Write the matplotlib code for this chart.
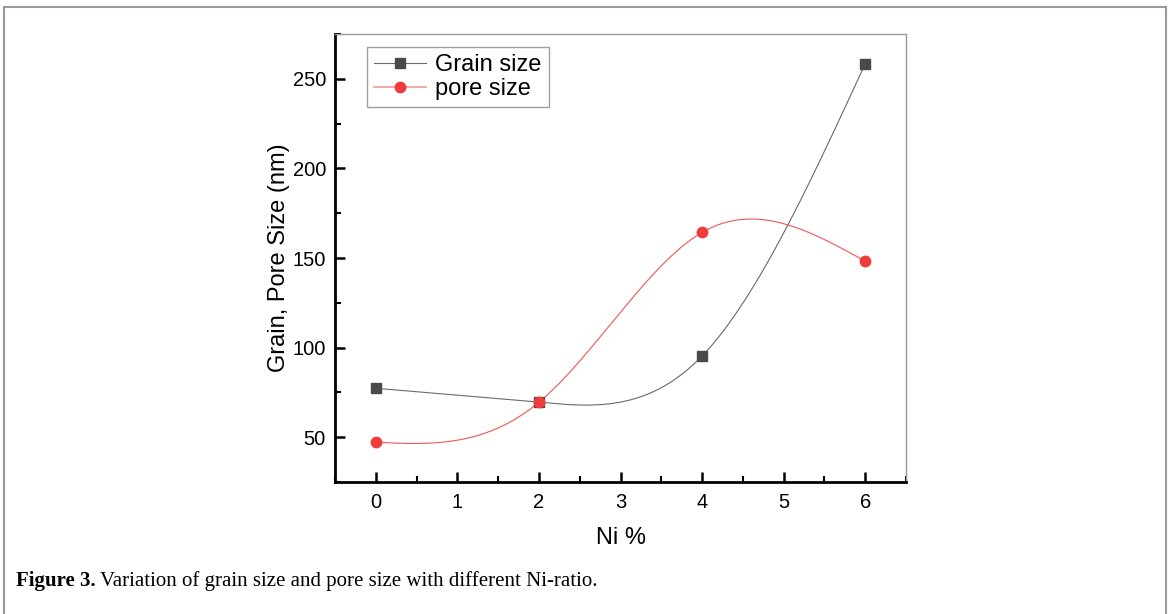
import numpy as np
import matplotlib
matplotlib.use('Agg')
import matplotlib.pyplot as plt
from matplotlib.lines import Line2D
from matplotlib.ticker import MultipleLocator

# data
ni = [0, 2, 4, 6]
grain = [77.3, 69.5, 95.3, 258.4]
pore = [47.2, 69.5, 164.3, 148.2]


def natural_spline(x, y, xs):
    # natural cubic spline, like Origin's "Spline" connect mode
    x = np.asarray(x, float)
    y = np.asarray(y, float)
    n = len(x)
    h = np.diff(x)
    A = np.zeros((n, n))
    b = np.zeros(n)
    A[0, 0] = 1
    A[-1, -1] = 1
    for i in range(1, n - 1):
        A[i, i - 1] = h[i - 1]
        A[i, i] = 2 * (h[i - 1] + h[i])
        A[i, i + 1] = h[i]
        b[i] = 3 * ((y[i + 1] - y[i]) / h[i] - (y[i] - y[i - 1]) / h[i - 1])
    c = np.linalg.solve(A, b)
    out = np.empty_like(xs)
    for k, xv in enumerate(xs):
        i = min(np.searchsorted(x, xv, side='right') - 1, n - 2)
        t = xv - x[i]
        bi = (y[i + 1] - y[i]) / h[i] - h[i] * (2 * c[i] + c[i + 1]) / 3
        di = (c[i + 1] - c[i]) / (3 * h[i])
        out[k] = y[i] + bi * t + c[i] * t ** 2 + di * t ** 3
    return out


plt.rcParams['font.family'] = ['Liberation Sans', 'DejaVu Sans']

fig = plt.figure(figsize=(11.71, 6.14), dpi=100)
ax = fig.add_axes([335 / 1171, 1 - 482 / 614, 571 / 1171, 448 / 614])

xs = np.linspace(0, 6, 400)
grainCol = '#4a4a4a'
poreCol = '#f03c3c'
ax.plot(xs, natural_spline(ni, grain, xs), color='#6a6a6a', lw=0.8, zorder=2)
ax.plot(xs, natural_spline(ni, pore, xs), color='#f25555', lw=0.8, zorder=2)
ax.plot(ni, grain, 's', color=grainCol, ms=7, zorder=3)
ax.plot(ni, pore, 'o', color=poreCol, ms=7.5, zorder=3)

ax.set_xlim(-0.5, 6.5)
ax.set_ylim(25, 275)
ax.xaxis.set_major_locator(MultipleLocator(1))
ax.xaxis.set_minor_locator(MultipleLocator(0.5))
ax.yaxis.set_major_locator(MultipleLocator(50))
ax.yaxis.set_minor_locator(MultipleLocator(25))
ax.set_yticks([50, 100, 150, 200, 250])
ax.tick_params(which='major', direction='in', length=7, width=1.8, labelsize=14.5, pad=8)
ax.tick_params(axis='y', which='major', pad=6.5)
ax.tick_params(which='minor', direction='in', length=4, width=1.5)
ax.tick_params(top=False, right=False)

for s in ['left', 'bottom']:
    ax.spines[s].set_linewidth(2)
    ax.spines[s].set_color('black')
for s in ['top', 'right']:
    ax.spines[s].set_linewidth(1)
    ax.spines[s].set_color('#999999')

ax.set_xlabel('Ni %', fontsize=17, labelpad=11)
ax.set_ylabel('Grain, Pore Size (nm)', fontsize=17, labelpad=2)

handles = [
    Line2D([], [], color='#6a6a6a', lw=0.8, marker='s', ms=7, mfc=grainCol, mec=grainCol),
    Line2D([], [], color='#f7aaaa', lw=1.5, marker='o', ms=7.5, mfc=poreCol, mec=poreCol),
]
leg = ax.legend(handles, ['Grain size', 'pore size'], loc='upper left',
                bbox_to_anchor=(32 / 571, 1 - 13 / 448), borderaxespad=0, fontsize=17,
                frameon=True, fancybox=False, edgecolor='#888888',
                handlelength=2.2, handletextpad=0.4, borderpad=0.3,
                labelspacing=0.08)
leg.get_frame().set_linewidth(1)

# outer gray frame of the page figure
for xy in [([4 / 1171, 1166 / 1171], [1 - 7 / 614, 1 - 7 / 614]),
           ([4 / 1171, 4 / 1171], [0, 1 - 7 / 614]),
           ([1166 / 1171, 1166 / 1171], [0, 1 - 7 / 614])]:
    fig.add_artist(Line2D(xy[0], xy[1], color='#999999', lw=1.5))

# caption
t1 = fig.text(16 / 1171, 1 - 581 / 614, 'Figure 3.', family='Liberation Serif',
              weight='bold', fontsize=15, va='center')
fig.canvas.draw()
bb = t1.get_window_extent()
fig.text(bb.x1 / 1171 + 4 / 1171, 1 - 581 / 614,
         'Variation of grain size and pore size with different Ni-ratio.',
         family='Liberation Serif', fontsize=15, va='center')

fig.savefig('out.png', dpi=100)
